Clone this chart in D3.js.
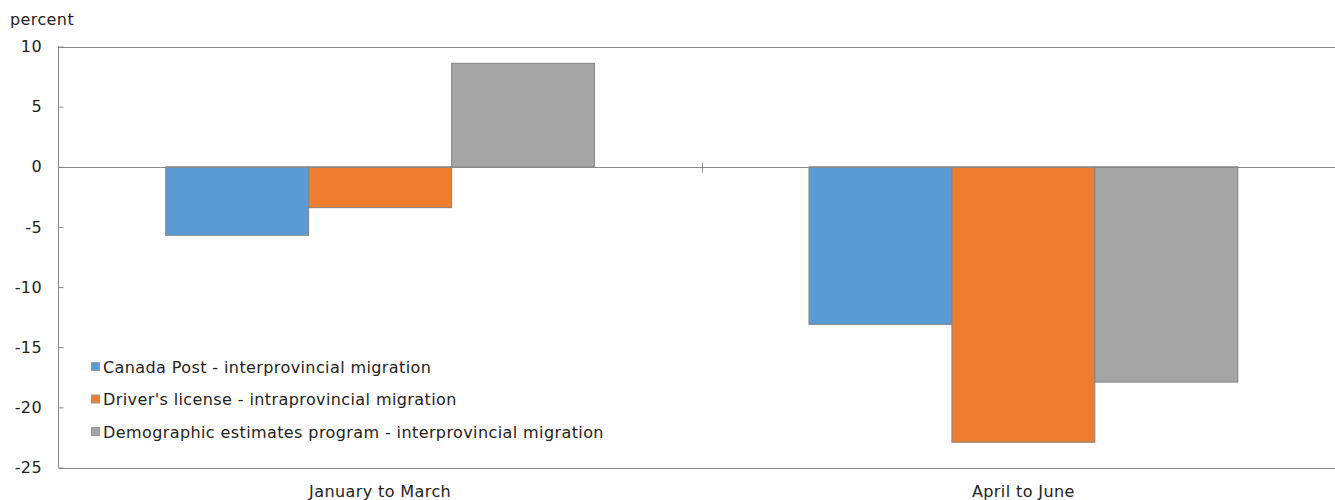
<!DOCTYPE html>
<html>
<head>
<meta charset="utf-8">
<script src="https://cdn.jsdelivr.net/npm/d3@7"></script>
<style>
  html, body { margin: 0; padding: 0; background: #fff; }
  svg { display: block; }
  text { font-family: "DejaVu Sans", Verdana, sans-serif; font-size: 16px; letter-spacing: 0.4px; fill: #222; }
</style>
</head>
<body>
<svg id="chart" width="1335" height="500"></svg>
<script>
// Quarters compared
const categories = ["January to March", "April to June"];

// Series names (legend order)
const seriesNames = [
  "Canada Post - interprovincial migration",
  "Driver's license - intraprovincial migration",
  "Demographic estimates program - interprovincial migration"
];

// Percent change per series, one value per quarter
const canadaPost = [-5.7, -13.1];
const driversLicense = [-3.4, -22.9];
const demographicEstimates = [8.6, -17.9];

const yTicks = [10, 5, 0, -5, -10, -15, -20, -25];
const colors = ["#5B9BD5", "#ED7D31", "#A5A5A5"];

const seriesValues = [canadaPost, driversLicense, demographicEstimates];

const svg = d3.select("#chart");
const W = 1335, H = 500;
const plotLeft = 58.5, plotRight = 1345, plotTop = 46.5, plotBottom = 467.5;
const axisColor = "#898989";

const y = d3.scaleLinear().domain([-25, 10]).range([plotBottom, plotTop]);
const x0 = d3.scaleBand().domain(categories).range([plotLeft, plotRight]).padding(0);
const bw = x0.bandwidth();
// 150% gap width: bars occupy 3 / (3 + 1.5) of each category band
const gap = bw * 1.5 / 4.5 / 2;
const x1 = d3.scaleBand().domain(d3.range(seriesNames.length)).range([gap, bw - gap]).padding(0);

const plot = svg.append("g");

// Horizontal frame lines at the top and bottom of the value range
[10, -25].forEach(v => {
  plot.append("line")
    .attr("x1", plotLeft).attr("x2", W)
    .attr("y1", Math.round(y(v)) + 0.5).attr("y2", Math.round(y(v)) + 0.5)
    .attr("stroke", axisColor).attr("stroke-width", 1);
});

// Bars
const rows = [];
categories.forEach((c, ci) => {
  seriesValues.forEach((vals, si) => rows.push({ c, si, v: vals[ci] }));
});
plot.selectAll("rect.bar").data(rows).enter().append("rect")
  .attr("class", "bar")
  .attr("x", d => x0(d.c) + x1(d.si))
  .attr("width", x1.bandwidth())
  .attr("y", d => y(Math.max(0, d.v)))
  .attr("height", d => Math.abs(y(d.v) - y(0)))
  .attr("fill", d => colors[d.si])
  .attr("stroke", "#858585")
  .attr("stroke-width", 1);

// Y axis
const yAxis = d3.axisRight(y).tickValues(yTicks).tickSize(5).tickFormat("");
const yg = svg.append("g").attr("transform", `translate(${plotLeft},0)`).call(yAxis);
yg.select(".domain").attr("stroke", axisColor).attr("d", `M0,${plotTop}V${plotBottom}`);
yg.selectAll(".tick line").attr("stroke", axisColor);
yTicks.forEach(v => {
  svg.append("text")
    .attr("x", 42).attr("y", y(v)).attr("dy", "0.35em")
    .attr("text-anchor", "end")
    .text(v);
});

// Zero (category) axis with tick marks between categories
const zy = Math.round(y(0)) + 0.5;
svg.append("line")
  .attr("x1", plotLeft).attr("x2", W).attr("y1", zy).attr("y2", zy)
  .attr("stroke", axisColor).attr("stroke-width", 1);
categories.slice(1).forEach(c => {
  const tx = Math.round(x0(c)) + 0.5;
  svg.append("line")
    .attr("x1", tx).attr("x2", tx).attr("y1", zy - 5).attr("y2", zy + 5)
    .attr("stroke", axisColor).attr("stroke-width", 1);
});

// Category labels below the plot
categories.forEach(c => {
  svg.append("text")
    .attr("x", x0(c) + bw / 2).attr("y", 491).attr("dy", "0.35em")
    .attr("text-anchor", "middle")
    .text(c);
});

// Unit label
svg.append("text").attr("x", 10).attr("y", 19).attr("dy", "0.35em").text("percent");

// Legend
const legend = svg.append("g").attr("transform", "translate(91,367)");
seriesNames.forEach((name, i) => {
  const g = legend.append("g").attr("transform", `translate(0,${i * 32.5})`);
  g.append("rect").attr("x", 0.5).attr("y", -4.5).attr("width", 8).attr("height", 8)
    .attr("fill", colors[i]).attr("stroke", "#9a9a9a").attr("stroke-width", 1);
  g.append("text").attr("x", 12).attr("y", 0).attr("dy", "0.35em").text(name);
});
</script>
</body>
</html>
